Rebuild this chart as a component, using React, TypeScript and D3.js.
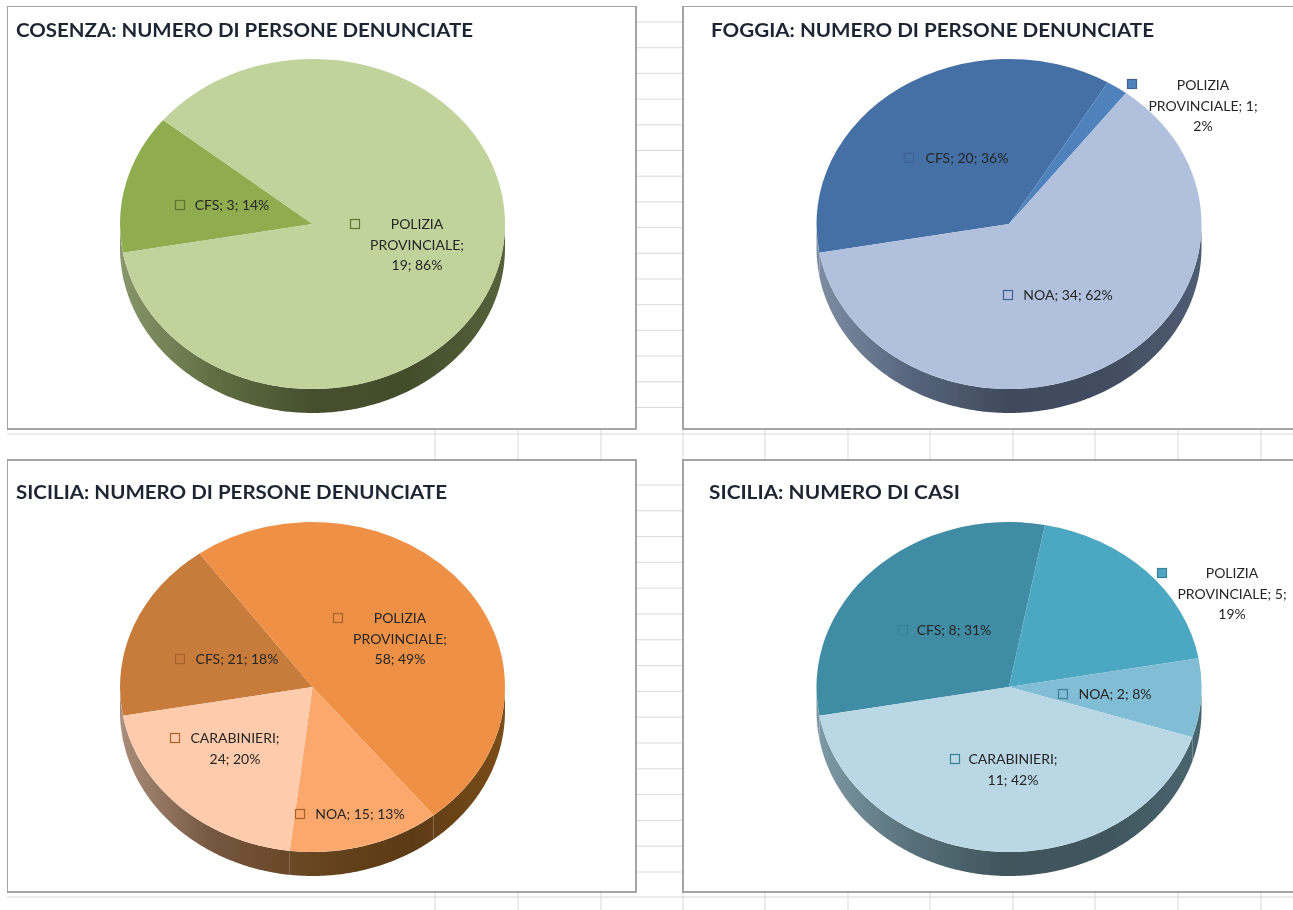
import * as d3 from 'd3';

const WIDTH = 1293;
const HEIGHT = 910;

const categories = ['CFS', 'POLIZIA PROVINCIALE', 'NOA', 'CARABINIERI'];
const cosenzaPersone = [3, 19, 0, 0];
const foggiaPersone = [20, 1, 34, 0];
const siciliaPersone = [21, 58, 15, 24];
const siciliaCasi = [8, 5, 2, 11];

const titles = [
  'COSENZA: NUMERO DI PERSONE DENUNCIATE',
  'FOGGIA: NUMERO DI PERSONE DENUNCIATE',
  'SICILIA: NUMERO DI PERSONE DENUNCIATE',
  'SICILIA: NUMERO DI CASI',
];
const series = [cosenzaPersone, foggiaPersone, siciliaPersone, siciliaCasi];

// slice colours, same order as categories
const sliceColors = [
  ['#8fad50', '#bfd39a', '#bfd39a', '#bfd39a'],
  ['#4470a6', '#4f81bd', '#b0c0dd', '#b0c0dd'],
  ['#c77b3a', '#ee9146', '#fca86c', '#fecbad'],
  ['#3f8ca5', '#4ba7c2', '#81bdd4', '#b9d7e5'],
];
const keyStrokes = ['#5f7433', '#3f6494', '#a5622a', '#3a8098'];
// side wall gradient, left to right
const wallStops = [
  ['#87976a', '#5f6e42', '#454f2d', '#434e2c', '#55623a'],
  ['#7f8ea3', '#56647b', '#3f4a5c', '#414d60', '#4f5c72'],
  ['#a98d7a', '#74553f', '#674520', '#5c3a12', '#7a4d1a'],
  ['#7f9ba6', '#577079', '#3f545c', '#40565e', '#4a666f'],
];

const panels = [
  { x: 7, y: 6, w: 629, h: 423, cx: 312.5, cy: 224, titleX: 16, titleY: 37, titleW: 457 },
  { x: 683, y: 6, w: 612, h: 423, cx: 1009, cy: 224, titleX: 711, titleY: 37, titleW: 443 },
  { x: 7, y: 460, w: 629, h: 432, cx: 312.5, cy: 687, titleX: 16, titleY: 499, titleW: 431 },
  { x: 683, y: 460, w: 612, h: 432, cx: 1009, cy: 687, titleX: 709, titleY: 499, titleW: 251 },
];

// where each data label sits: slice index, key box, text centre, first line y, words per line
const labelSpots = [
  [
    { i: 0, kx: 180, ky: 205, tx: 232, ty: 205, wrap: [3] },
    { i: 1, kx: 355, ky: 224, tx: 417, ty: 224, wrap: [1, 1, 2] },
  ],
  [
    { i: 0, kx: 909, ky: 158, tx: 967, ty: 158, wrap: [3] },
    { i: 2, kx: 1008, ky: 295, tx: 1068, ty: 295, wrap: [3] },
    { i: 1, kx: 1132, ky: 84, tx: 1203, ty: 85, wrap: [1, 2, 1] },
  ],
  [
    { i: 1, kx: 338, ky: 618, tx: 400, ty: 618, wrap: [1, 1, 2] },
    { i: 0, kx: 180, ky: 659, tx: 237, ty: 659, wrap: [3] },
    { i: 3, kx: 175, ky: 738, tx: 235, ty: 738, wrap: [1, 2] },
    { i: 2, kx: 300, ky: 814, tx: 360, ty: 814, wrap: [3] },
  ],
  [
    { i: 0, kx: 903, ky: 630, tx: 954, ty: 630, wrap: [3] },
    { i: 2, kx: 1063, ky: 694, tx: 1115, ty: 694, wrap: [3] },
    { i: 3, kx: 955, ky: 759, tx: 1013, ty: 759, wrap: [1, 2] },
    { i: 1, kx: 1162, ky: 573, tx: 1232, ty: 573, wrap: [1, 2, 1] },
  ],
];

const RX = 192.5;
const RY = 165;
const DEPTH = 24;
const START = (-100 * Math.PI) / 180;
const FONT = 'Lato, "Open Sans", sans-serif';

const pie = d3
  .pie<number>()
  .sort(null)
  .startAngle(START)
  .endAngle(START + 2 * Math.PI);
const arc = d3.arc<d3.PieArcDatum<number>>().innerRadius(0).outerRadius(RX);

// words split over lines like the spreadsheet wrapped them
function labelLines(i: number, values: number[], wrap: number[]) {
  const pct = Math.round((values[i] / d3.sum(values)) * 100);
  const words = `${categories[i]}; ${values[i]}; ${pct}%`.split(' ');
  let at = 0;
  return wrap.map((n) => {
    const line = words.slice(at, at + n).join(' ');
    at += n;
    return line;
  });
}

// rim of a slice, only the front of the pie (90deg to 270deg, or -100deg to -90deg here) shows
function wallPath(d: d3.PieArcDatum<number>, cx: number, cy: number) {
  const front = [
    [Math.PI / 2, (3 * Math.PI) / 2],
    [-(3 * Math.PI) / 2, -Math.PI / 2],
  ]
    .map(([lo, hi]) => [Math.max(d.startAngle, lo), Math.min(d.endAngle, hi)])
    .find(([a0, a1]) => a1 > a0);
  if (!front) return null;
  const angles = [...d3.range(front[0], front[1], 0.01), front[1]];
  return d3
    .area<number>()
    .x((a) => cx + RX * Math.sin(a))
    .y0((a) => cy - RY * Math.cos(a))
    .y1((a) => cy - RY * Math.cos(a) + DEPTH)(angles);
}

function Pie({ index }: { index: number }) {
  const p = panels[index];
  const values = series[index];
  const color = d3.scaleOrdinal<number, string>().domain([0, 1, 2, 3]).range(sliceColors[index]);
  const slices = pie(values);
  return (
    <g>
      <rect x={p.x} y={p.y} width={p.w} height={p.h} fill="#fff" stroke="#8f8f8f" strokeWidth={1.6} />
      <text
        x={p.titleX}
        y={p.titleY}
        textLength={p.titleW}
        lengthAdjust="spacingAndGlyphs"
        fontFamily={FONT}
        fontSize={19.5}
        fontWeight={700}
        fill="#1f2733"
      >
        {titles[index]}
      </text>
      {slices.map((d, i) => {
        const wall = d.value > 0 ? wallPath(d, p.cx, p.cy) : null;
        return wall ? <path key={i} d={wall} fill={`url(#wall${index})`} /> : null;
      })}
      <g transform={`translate(${p.cx},${p.cy}) scale(1,${RY / RX})`}>
        {slices.map((d, i) =>
          d.value > 0 ? <path key={i} d={arc(d) as string} fill={color(i)} /> : null,
        )}
      </g>
      {labelSpots[index].map((s) => (
        <g key={s.i}>
          <rect
            x={s.kx - 4.5}
            y={s.ky - 4.5}
            width={9}
            height={9}
            fill={color(s.i)}
            stroke={keyStrokes[index]}
            strokeWidth={1.2}
          />
          {labelLines(s.i, values, s.wrap).map((line, k) => (
            <text
              key={k}
              x={s.tx}
              y={s.ty + k * 20.5 + 5}
              textAnchor="middle"
              fontFamily={FONT}
              fontSize={14}
              fill="#262626"
            >
              {line}
            </text>
          ))}
        </g>
      ))}
    </g>
  );
}

export default function App() {
  const stripRows = [...d3.range(22, 425, 25.7), ...d3.range(485, 890, 25.8)];
  const gapCols = [435, 518, 601, 683, 765, 848, 930, 1013, 1095, 1178, 1261];
  return (
    <svg
      width={WIDTH}
      height={HEIGHT}
      style={{ position: 'absolute', left: 0, top: 0, display: 'block' }}
    >
      <defs>
        <filter id="soft" x="0" y="0" width="100%" height="100%">
          <feGaussianBlur stdDeviation="0.45" />
        </filter>
        {panels.map((p, i) => (
          <linearGradient
            key={i}
            id={`wall${i}`}
            gradientUnits="userSpaceOnUse"
            x1={p.cx - RX}
            x2={p.cx + RX}
            y1={0}
            y2={0}
          >
            {wallStops[i].map((c, k) => (
              <stop key={k} offset={k / (wallStops[i].length - 1)} stopColor={c} />
            ))}
          </linearGradient>
        ))}
      </defs>
      <rect width={WIDTH} height={HEIGHT} fill="#fff" />
      <g filter="url(#soft)">
        <g stroke="#d9d9d9" strokeWidth={1}>
          {stripRows.map((y) => (
            <line key={y} x1={636} x2={683} y1={y} y2={y} />
          ))}
          {[434, 897].map((y) => (
            <line key={y} x1={7} x2={WIDTH} y1={y} y2={y} />
          ))}
          {gapCols.map((x) => (
            <g key={x}>
              <line x1={x} x2={x} y1={430} y2={460} />
              <line x1={x} x2={x} y1={892} y2={HEIGHT} />
            </g>
          ))}
        </g>
        {panels.map((_, i) => (
          <Pie key={i} index={i} />
        ))}
      </g>
    </svg>
  );
}
